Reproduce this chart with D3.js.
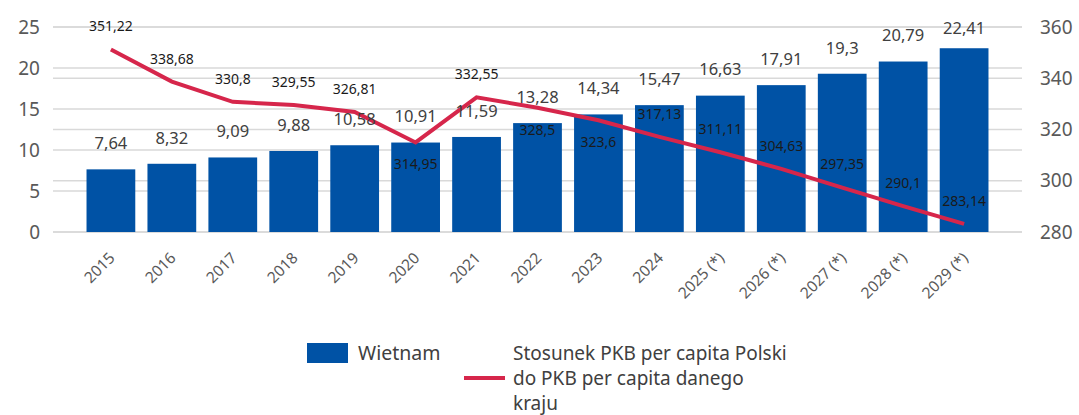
<!DOCTYPE html>
<html>
<head>
<meta charset="utf-8">
<script src="https://cdn.jsdelivr.net/npm/d3@7"></script>
<style>
  body { margin: 0; background: #fff; }
  text { font-family: "Noto Sans", "Open Sans", sans-serif; }
</style>
</head>
<body>
<script>
// data
const years = ["2015", "2016", "2017", "2018", "2019", "2020", "2021", "2022", "2023", "2024",
  "2025 (*)", "2026 (*)", "2027 (*)", "2028 (*)", "2029 (*)"]
const gdpValues = [7.64, 8.32, 9.09, 9.88, 10.58, 10.91, 11.59, 13.28, 14.34, 15.47, 16.63, 17.91, 19.3, 20.79, 22.41]
const ratioValues = [351.22, 338.68, 330.8, 329.55, 326.81, 314.95, 332.55, 328.5, 323.6, 317.13, 311.11, 304.63, 297.35, 290.1, 283.14]
// which line labels sit under the point
const ratioBelow = ["2020", "2022", "2023"]
const leftTicks = [0, 5, 10, 15, 20, 25]
const rightTicks = [280, 300, 320, 340, 360]

const width = 1079, height = 415
const fmt = v => String(v).replace(".", ",")

let svg = d3.select("body").append("svg")
  .attr("width", width)
  .attr("height", height)

let x = d3.scaleBand()
  .domain(years)
  .range([53, 1022])
  .paddingInner(0.2)
  .paddingOuter(0.55)

let yLeft = d3.scaleLinear().domain([0, 25]).range([232, 27])
let yRight = d3.scaleLinear().domain([280, 360]).range([232, 27])

// gridlines for both axes
let grid = svg.append("g").attr("class", "grid")
grid.selectAll("line.l")
  .data(leftTicks)
  .enter()
  .append("line")
    .attr("x1", 53).attr("x2", 1022)
    .attr("y1", d => yLeft(d)).attr("y2", d => yLeft(d))
    .attr("stroke", "#d9d9d9")
    .attr("stroke-width", 1.5)
grid.selectAll("line.r")
  .data(rightTicks)
  .enter()
  .append("line")
    .attr("x1", 53).attr("x2", 1022)
    .attr("y1", d => yRight(d)).attr("y2", d => yRight(d))
    .attr("stroke", "#d9d9d9")
    .attr("stroke-width", 1.5)

// axes
let leftAxis = svg.append("g")
  .attr("transform", "translate(40,0)")
  .call(d3.axisLeft(yLeft).tickValues(leftTicks).tickSize(0).tickPadding(0))
let rightAxis = svg.append("g")
  .attr("transform", "translate(1040,0)")
  .call(d3.axisRight(yRight).tickValues(rightTicks).tickSize(0).tickPadding(0))
for (let a of [leftAxis, rightAxis]) {
  a.select(".domain").remove()
  a.selectAll("text")
    .attr("font-size", "19px")
    .attr("fill", "#595959")
    .style("font-family", "'Noto Sans', sans-serif")
}

let xAxis = svg.append("g")
  .attr("transform", "translate(0,232)")
  .call(d3.axisBottom(x).tickSize(0).tickPadding(0))
xAxis.select(".domain").remove()
xAxis.selectAll("text")
  .attr("font-size", "15.5px")
  .attr("fill", "#595959")
  .style("font-family", "'Noto Sans', sans-serif")
  .attr("text-anchor", "end")
  .attr("dy", null)
  .attr("transform", "translate(5,27) rotate(-45)")

// bars
let bars = svg.append("g")
bars.selectAll("rect")
  .data(years)
  .enter()
  .append("rect")
    .attr("x", d => x(d))
    .attr("width", x.bandwidth())
    .attr("y", (d, i) => yLeft(gdpValues[i]))
    .attr("height", (d, i) => yLeft(0) - yLeft(gdpValues[i]))
    .attr("fill", "#0052a5")

// line
let line = d3.line()
  .x((d, i) => x(years[i]) + x.bandwidth() / 2)
  .y(d => yRight(d))
svg.append("path")
  .datum(ratioValues)
  .attr("d", line)
  .attr("fill", "none")
  .attr("stroke", "#d6264b")
  .attr("stroke-width", 4)

// bar labels
svg.append("g").selectAll("text")
  .data(years)
  .enter()
  .append("text")
    .attr("x", d => x(d) + x.bandwidth() / 2)
    .attr("y", (d, i) => Math.max(yLeft(gdpValues[i]) - 26, 28))
    .attr("dy", "0.35em")
    .attr("text-anchor", "middle")
    .attr("font-size", "16.5px")
    .attr("fill", "#404040")
    .text((d, i) => fmt(gdpValues[i]))

// line labels
svg.append("g").selectAll("text")
  .data(years)
  .enter()
  .append("text")
    .attr("x", d => x(d) + x.bandwidth() / 2)
    .attr("y", (d, i) => yRight(ratioValues[i]) + (ratioBelow.includes(d) ? 22 : -23))
    .attr("dy", "0.35em")
    .attr("text-anchor", "middle")
    .attr("font-size", "14px")
    .attr("fill", "#1a1a1a")
    .text((d, i) => fmt(ratioValues[i]))

// legend
let legend = svg.append("g")
legend.append("rect")
  .attr("x", 307).attr("y", 343)
  .attr("width", 41).attr("height", 20)
  .attr("fill", "#0052a5")
legend.append("text")
  .attr("x", 358).attr("y", 353)
  .attr("dy", "0.35em")
  .attr("font-size", "19.5px")
  .attr("fill", "#404040")
  .text("Wietnam")
legend.append("line")
  .attr("x1", 464).attr("x2", 505)
  .attr("y1", 378).attr("y2", 378)
  .attr("stroke", "#d6264b")
  .attr("stroke-width", 4)
let legendLines = ["Stosunek PKB per capita Polski", "do PKB per capita danego", "kraju"]
legend.selectAll("text.l")
  .data(legendLines)
  .enter()
  .append("text")
    .attr("x", 513)
    .attr("y", (d, i) => 353 + i * 25)
    .attr("dy", "0.35em")
    .attr("font-size", "19px")
    .attr("fill", "#404040")
    .text(d => d)
</script>
</body>
</html>
